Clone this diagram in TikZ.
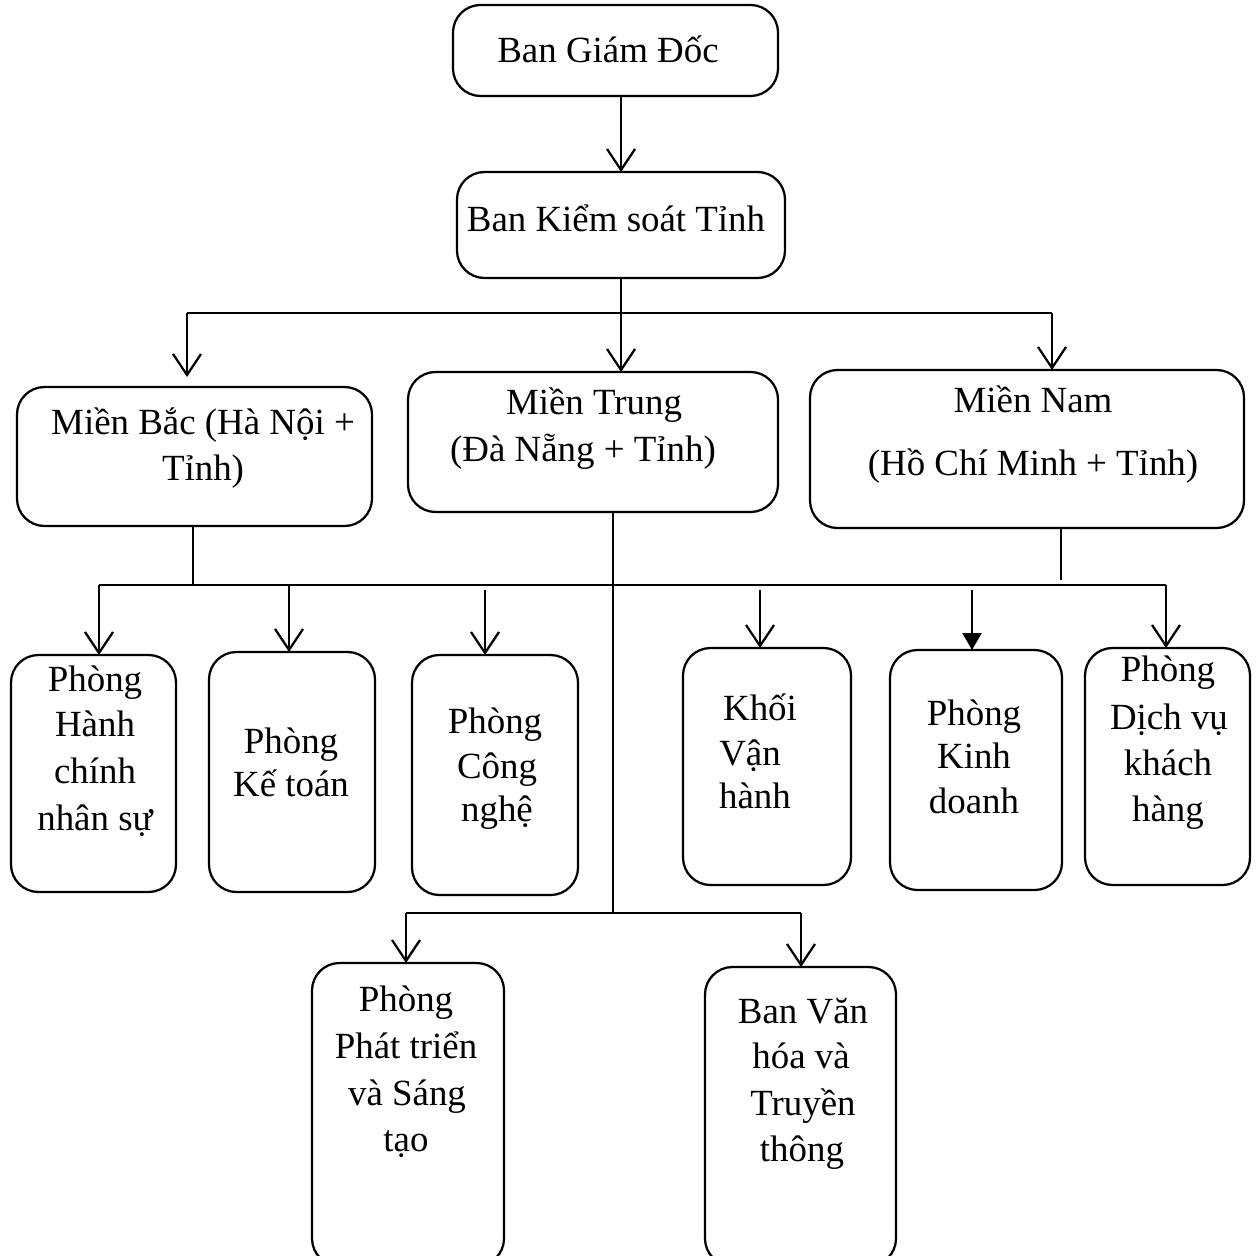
\documentclass[tikz,border=0pt]{standalone}
\usepackage{fontspec}
\setmainfont{Liberation Serif}
\usetikzlibrary{arrows.meta}
\newcommand\mybox[5]{\node[box,minimum width={(#4-#2)*0.02cm},minimum height={(#5-#3)*0.02cm}] (#1) at ({(#2+#4)/2},{(#3+#5)/2}) {};}
\newcommand\mytl[4]{\node[txt] (#1) at (#2,#3) {#4};}
\begin{document}
\begin{tikzpicture}[x={(0.02cm,0)},y={(0,-0.02cm)},
  box/.style={draw,line width=0.045cm,rounded corners=0.55cm,inner sep=0pt,outer sep=0pt},
  txt/.style={inner sep=0pt,anchor=base,font=\fontsize{21pt}{25pt}\selectfont},
  conn/.style={line width=0.045cm},
  arr/.style={conn,-{Straight Barb[length=0.42cm,width=0.56cm,line width=0.045cm]}},
  farr/.style={conn,-{Triangle[length=0.34cm,width=0.38cm]}}]
\clip (0,0) rectangle (1255,1256);
\fill[white] (0,0) rectangle (1255,1256);
% boxes
\mybox{bgd}{453}{5}{778}{96}
\mybox{ks}{457}{172}{785}{278}
\mybox{mb}{17}{387}{372}{526}
\mybox{mt}{408}{372}{778}{512}
\mybox{mn}{810}{370}{1244}{528}
\mybox{phc}{11}{655}{176}{892}
\mybox{pkt}{209}{652}{375}{892}
\mybox{pcn}{412}{655}{578}{895}
\mybox{kvh}{683}{648}{851}{885}
\mybox{pkd}{890}{650}{1062}{890}
\mybox{pdv}{1085}{648}{1250}{885}
\mybox{ppt}{312}{963}{504}{1266}
\mybox{bvh}{705}{967}{896}{1266}
% texts
\mytl{t1}{608}{63}{Ban Giám Đốc}
\mytl{t2}{616}{232}{Ban Kiểm soát Tỉnh}
\mytl{t3a}{203}{434}{Miền Bắc (Hà Nội +}
\mytl{t3b}{203}{480}{Tỉnh)}
\mytl{t4a}{594}{414}{Miền Trung}
\mytl{t4b}{583}{461}{(Đà Nẵng + Tỉnh)}
\mytl{t5a}{1033}{412}{Miền Nam}
\mytl{t5b}{1033}{475}{(Hồ Chí Minh + Tỉnh)}
\mytl{t6a}{95}{691}{Phòng}
\mytl{t6b}{95}{736}{Hành}
\mytl{t6c}{95}{783}{chính}
\mytl{t6d}{95}{830}{nhân sự}
\mytl{t7a}{291}{753}{Phòng}
\mytl{t7b}{291}{796}{Kế toán}
\mytl{t8a}{495}{733}{Phòng}
\mytl{t8b}{497}{778}{Công}
\mytl{t8c}{497}{821}{nghệ}
\mytl{t9a}{760}{720}{Khối}
\mytl{t9b}{750}{765}{Vận}
\mytl{t9c}{755}{808}{hành}
\mytl{t10a}{974}{725}{Phòng}
\mytl{t10b}{974}{768}{Kinh}
\mytl{t10c}{974}{813}{doanh}
\mytl{t11a}{1168}{681}{Phòng}
\mytl{t11b}{1169}{729}{Dịch vụ}
\mytl{t11c}{1168}{775}{khách}
\mytl{t11d}{1168}{821}{hàng}
\mytl{t12a}{406}{1011}{Phòng}
\mytl{t12b}{406}{1058}{Phát triển}
\mytl{t12c}{407}{1105}{và Sáng}
\mytl{t12d}{406}{1151}{tạo}
\mytl{t13a}{803}{1023}{Ban Văn}
\mytl{t13b}{801}{1068}{hóa và}
\mytl{t13c}{803}{1115}{Truyền}
\mytl{t13d}{802}{1161}{thông}
% junction coordinates
\coordinate (j1) at (187,313);
\coordinate (j2) at (1052,313);
\coordinate (k1) at (193,585);
\coordinate (k0) at (99,585);
\coordinate (k9) at (1166,585);
\coordinate (m1) at (613,913);
\coordinate (m0) at (406,913);
\coordinate (m9) at (801,913);
% connectors
\draw[arr] (bgd.south -| ks.south) -- (ks.north);
\draw[conn] (j1) -- (j2);
\draw[arr] (ks.south) -- (ks.south |- mt.north);
\draw[arr] (j1) -- ([yshift=0.2cm]j1 |- mb.north);
\draw[arr] (j2) -- (j2 |- mn.north);
\draw[conn] (mb.south -| k1) -- (k1);
\draw[conn] (k0) -- (k9);
\draw[conn] (mn.south -| 1061,0) -- (1061,580);
\draw[conn] (mt.south -| m1) -- (m1);
\draw[arr] (k0) -- (k0 |- phc.north);
\draw[arr] (289,585) -- (289,0 |- pkt.north);
\draw[arr] (485,590) -- (485,0 |- pcn.north);
\draw[arr] (760,590) -- (760,0 |- kvh.north);
\draw[farr] (972,590) -- (972,0 |- pkd.north);
\draw[arr] (k9) -- (k9 |- pdv.north);
\draw[conn] (m0) -- (m9);
\draw[arr] (m0) -- (m0 |- ppt.north);
\draw[arr] (m9) -- (m9 |- bvh.north);
\end{tikzpicture}
\end{document}
